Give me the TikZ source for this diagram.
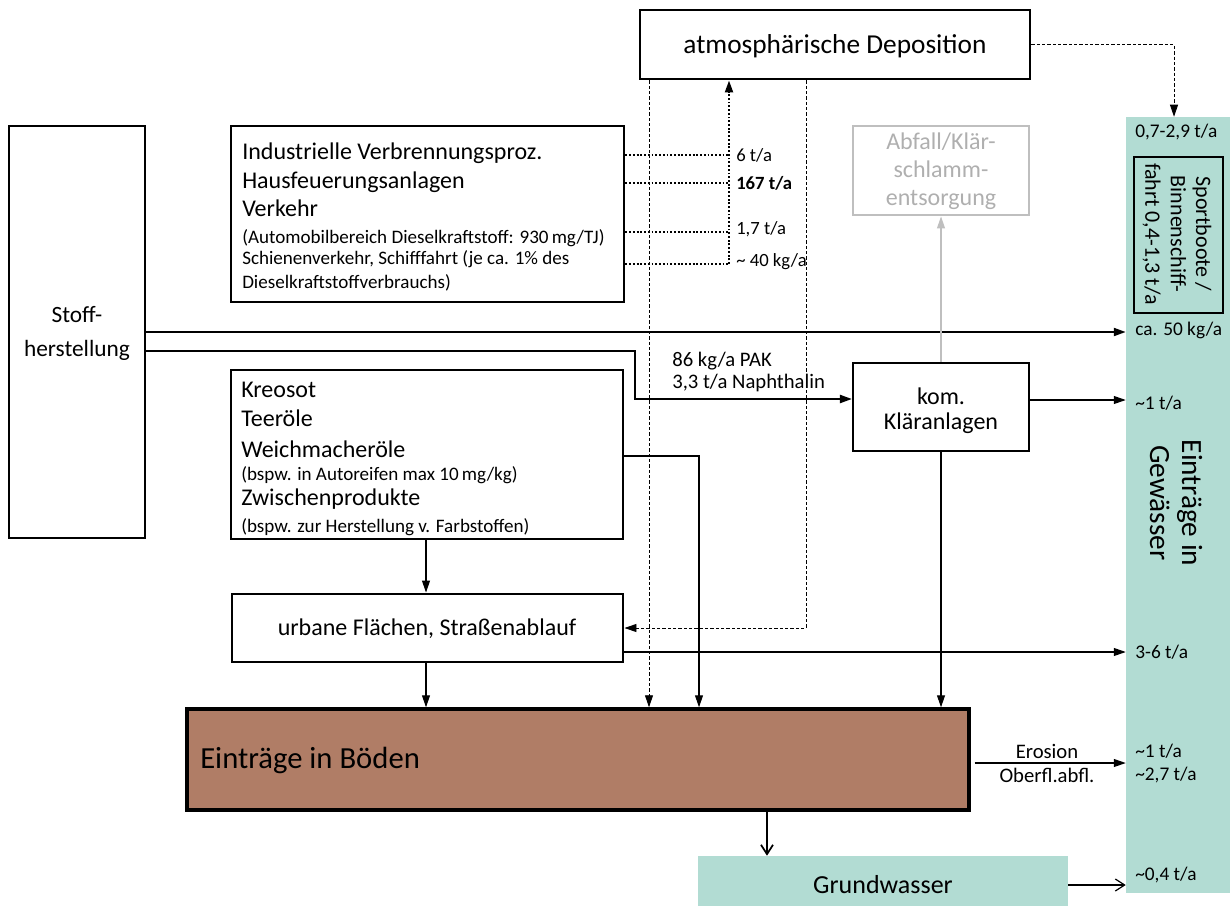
\documentclass[tikz,border=0pt]{standalone}
\usepackage{fontspec}
\setmainfont{Carlito}
\usetikzlibrary{fit,arrows.meta}
\definecolor{gwteal}{HTML}{B2DCD3}
\definecolor{soil}{HTML}{B07D66}
\definecolor{greyb}{HTML}{BFBFBF}
\definecolor{greyt}{HTML}{AFAFAF}
\newcommand{\fsz}[2]{\fontsize{#1}{#2}\selectfont}
\begin{document}
\begin{tikzpicture}[x=0.75pt,y=-0.75pt,
  box/.style={draw, line width=2.2pt, inner sep=0pt},
  tealbox/.style={fill=gwteal, draw=none, inner sep=0pt},
  ctext/.style={inner sep=0pt, align=center},
  arr/.style={-{Triangle[length=9pt,width=6pt]}, line width=0.8pt},
  thickarr/.style={-{Triangle[length=9pt,width=6pt]}, line width=1.6pt},
  openarr/.style={-{Straight Barb[length=7pt,width=9pt]}, line width=0.9pt},
  dashline/.style={dash pattern=on 2.5pt off 1.5pt, line width=0.7pt},
  dotline/.style={dash pattern=on 1.4pt off 1.4pt, line width=1.6pt},
  lbl/.style={anchor=west, inner sep=0pt, font=\fsz{14}{16}},
  glbl/.style={anchor=west, inner sep=0pt, font=\fsz{14.5}{17}},
  txt/.style={anchor=base west, inner sep=0pt, font=\fsz{18}{21}},
  smalltxt/.style={anchor=base west, inner sep=0pt, font=\fsz{14.3}{16}}
]
\useasboundingbox (0,0) rectangle (1230,906);

% water column
\node[tealbox, fit={(1126,117) (1230,893)}] (gew) {};
\node[rotate=-90, ctext, font=\fsz{22}{24}] (gewtxt) at (1176,503) {Einträge in\\Gewässer};
\node[box, fit={(1134,157) (1223,313)}] (sport) {};
\node[rotate=-90, ctext, font=\fsz{16.5}{19}] (sporttxt) at (1177,234) {Sportboote /\\Binnenschiff-\\fahrt 0,4-1,3 t/a};

% boxes
\node[box, fit={(640,10) (1030,79)}] (dep) {};
\node[ctext, font=\fsz{20.5}{22}] (deptxt) at (835,46) {atmosphärische Deposition};
\node[box, fit={(231,126) (624,302)}] (ind) {};
\node[box, draw=greyb, fit={(853,126) (1029,215)}] (abf) {};
\node[ctext, text=greyt, font=\fsz{18}{21}] (abftxt) at (941,171) {Abfall/Klär-\\schlamm-\\entsorgung};
\node[box, fit={(9,126) (145,538)}] (stoff) {};
\node[ctext, font=\fsz{17.5}{25.5}] (stofftxt) at (77,333) {Stoff-\\herstellung};
\node[box, fit={(231,370) (623,539)}] (kre) {};
\node[box, line width=1.6pt, fit={(853,363) (1029,451)}] (klaer) {};
\node[ctext, font=\fsz{18}{19}] (klaertxt) at (941,411) {kom.\\Kläranlagen};
\node[box, fit={(232,594) (623,662)}] (urb) {};
\node[ctext, font=\fsz{18}{20}] (urbtxt) at (427,629) {urbane Flächen, Straßenablauf};
\node[box, line width=2.6pt, fill=soil, fit={(187,709) (969,810)}] (boden) {};
\node[anchor=west, inner sep=0pt, font=\fsz{23}{26}] (bodentxt) at (200,760) {Einträge in Böden};
\node[tealbox, fit={(698,856) (1068,906)}] (grund) {};
\node[ctext, font=\fsz{19.5}{22}] (grundtxt) at (883,885) {Grundwasser};

% text inside Industrielle box
\node[txt] (i1) at (242,159) {Industrielle Verbrennungsproz.};
\node[txt] (i2) at (242,188) {Hausfeuerungsanlagen};
\node[txt] (i3) at (242,216) {Verkehr};
\node[smalltxt] (i4) at (242,243) {(Automobilbereich Dieselkraftstoff: 930\,mg/TJ)};
\node[smalltxt] (i5) at (242,264) {Schienenverkehr, Schifffahrt (je ca. 1\% des};
\node[smalltxt] (i6) at (242,288) {Dieselkraftstoffverbrauchs)};

% text inside Kreosot box
\node[txt] (k1) at (241,397) {Kreosot};
\node[txt] (k2) at (241,426) {Teeröle};
\node[txt] (k3) at (241,457) {Weichmacheröle};
\node[smalltxt] (k4) at (241,480) {(bspw. in Autoreifen max 10\,mg/kg)};
\node[txt] (k5) at (241,505) {Zwischenprodukte};
\node[smalltxt] (k6) at (241,532) {(bspw. zur Herstellung v. Farbstoffen)};

% emissions to atmosphere (dotted)
\coordinate (dv) at (729,264);
\draw[dotline] (ind.east |- 0,155) -- (729,155);
\draw[dotline] (ind.east |- 0,183) -- (729,183);
\draw[dotline] (ind.east |- 0,232) -- (729,232);
\draw[dotline] (ind.east |- 0,264) -- (dv);
\draw[dotline, -{Triangle[length=9pt,width=6pt]}] (dv) -- (dep.south -| dv);
\node[lbl] (l1) at (736,155) {6 t/a};
\node[lbl, font=\fsz{14}{16}\bfseries] (l2) at (736,183) {167 t/a};
\node[lbl] (l3) at (736,229) {1,7 t/a};
\node[lbl] (l4) at (736,262) {\textasciitilde\ 40 kg/a};

% deposition (dashed)
\draw[dashline, -{Triangle[length=9pt,width=6pt]}] (dep.east) -| (gew.north -| 1174,0);
\draw[dashline, -{Triangle[length=9pt,width=6pt]}] (dep.south -| 649,0) -- (boden.north -| 649,0);
\draw[dashline, -{Triangle[length=9pt,width=6pt]}] (dep.south -| 806,0) |- (urb.east |- 0,628);

% Stoffherstellung
\draw[thickarr] (stoff.east |- 0,332) -- (gew.west |- 0,332);
\draw[thickarr] (stoff.east |- 0,351) -| (635,399) -- (klaer.west |- 0,399);
\node[anchor=west, inner sep=0pt, align=left, font=\fsz{15.5}{16}] (pak) at (672,372) {86 kg/a PAK\\3,3 t/a Naphthalin};

% Kläranlagen
\draw[arr] (klaer.east |- 0,400) -- (gew.west |- 0,400);
\draw[-{Triangle[length=9pt,width=6pt]}, line width=0.8pt, draw=greyb, fill=greyb] (klaer.north) -- (abf.south);
\draw[arr] (klaer.south) -- (boden.north -| klaer.south);

% Kreosot / urban
\draw[arr] (kre.south -| 426,0) -- (urb.north -| 426,0);
\draw[arr] (urb.south -| 426,0) -- (boden.north -| 426,0);
\draw[arr] (kre.east |- 0,456) -| (boden.north -| 699,0);
\draw[arr] (urb.east |- 0,652) -- (gew.west |- 0,652);

% soil
\draw[arr, shorten <=3pt] (boden.east |- 0,763) -- (gew.west |- 0,763);
\node[ctext, font=\fsz{15.5}{18}] (eros) at (1047,763) {Erosion\\Oberfl.abfl.};
\draw[openarr, line width=1.3pt] (boden.south -| 767,0) -- (grund.north -| 767,0);
\draw[openarr] (grund.east |- 0,885) -- (gew.west |- 0,885);

% water labels
\node[glbl] (g1) at (1135,132) {0,7-2,9 t/a};
\node[glbl] (g2) at (1135,330) {ca. 50 kg/a};
\node[glbl] (g3) at (1135,403) {\textasciitilde 1 t/a};
\node[glbl] (g4) at (1135,652) {3-6 t/a};
\node[glbl] (g5) at (1135,751) {\textasciitilde 1 t/a};
\node[glbl] (g6) at (1135,775) {\textasciitilde 2,7 t/a};
\node[glbl] (g7) at (1135,875) {\textasciitilde 0,4 t/a};
\end{tikzpicture}
\end{document}
